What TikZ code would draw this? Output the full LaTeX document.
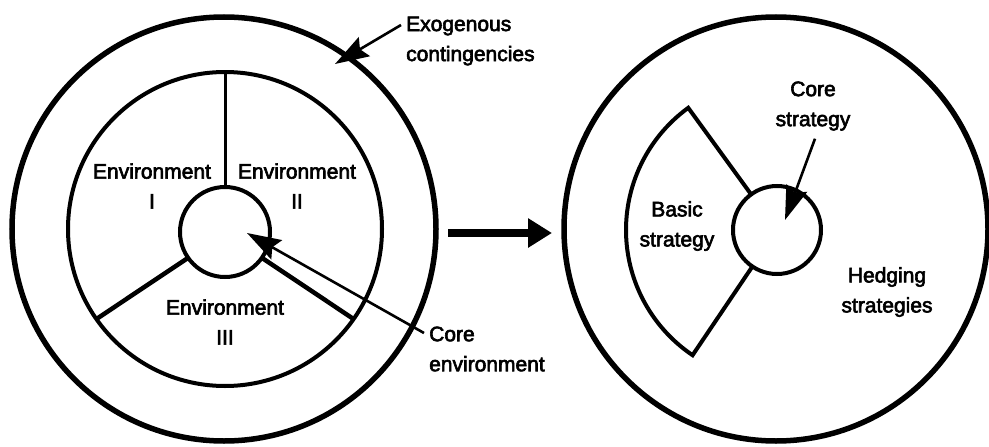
\documentclass[tikz,border=0pt]{standalone}
\usepackage{fontspec}
\setmainfont{Liberation Sans}
\usetikzlibrary{arrows.meta,calc}
% slightly heavier strokes for the label glyphs (fill + stroke render mode)
\newcommand{\heavytext}{\special{pdf:literal direct 2 Tr 0.6 w}}
\begin{document}
\begin{tikzpicture}[x=1pt,y=1pt,
  ring/.style={circle,draw,outer sep=0pt,inner sep=0pt},
  lbl/.style={font=\fontsize{21}{30}\selectfont,align=center,inner sep=0pt,
    execute at begin node=\heavytext},
  pointer/.style={line width=2.6pt,-{Stealth[length=34pt,width=22pt,inset=5pt]}},
  bigarrow/.style={line width=8pt,-{Triangle[length=24pt,width=28pt]}}]
\useasboundingbox (0,0) rectangle (989,-447);

% environment side
\node[ring,line width=5.5pt,minimum size=424pt] (outerL) at (224,-229) {};
\node[ring,line width=4pt,minimum size=314pt] (ringL) at (225,-229) {};
\node[ring,line width=4pt,minimum size=90pt] (coreL) at (225,-232) {};
\draw[line width=3pt] (coreL.90) -- (coreL.90 |- ringL.90);
\draw[line width=4.5pt] (coreL.215) -- (ringL.215);
\draw[line width=4.5pt] (coreL.325) -- (ringL.325);

\node[lbl] (envI) at (152,-186) {Environment\\I};
\node[lbl] (envII) at (297,-186) {Environment\\II};
\node[lbl] (envIII) at (225,-322) {Environment\\III};

\node[lbl,align=left,anchor=west] (exo) at (406,-41) {Exogenous\\contingencies};
\coordinate (exoTip) at (335,-64);
\draw[pointer] ([shift={(-5,16)}]exo.west) -- (exoTip);

\node[lbl,align=left,anchor=west] (coreEnv) at (429,-349) {Core\\environment};
\coordinate (coreEnvTip) at (247,-233);
\draw[pointer] ([shift={(-5,16)}]coreEnv.west) -- (coreEnvTip);

% strategy side
\node[ring,line width=5.5pt,minimum size=424pt] (outerR) at (776,-229) {};
\node[ring,line width=4pt,minimum size=88pt] (coreR) at (777,-230) {};
\draw[line width=4pt,line join=miter]
  (coreR.126) -- ($(coreR)+(126:151)$)
  arc[start angle=126,end angle=236,radius=151] -- (coreR.236);

\node[lbl] (basic) at (677,-226) {Basic\\strategy};
\node[lbl] (hedge) at (887,-292) {Hedging\\strategies};
\node[lbl] (coreStr) at (813,-106) {Core\\strategy};
\coordinate (coreStrTip) at (785,-220);
\draw[pointer] ([shift={(2,-8)}]coreStr.south) -- (coreStrTip);

% transition arrow
\draw[bigarrow] ([shift={(12,-4)}]outerL.east) -- ([shift={(-12,-4)}]outerR.west);
\end{tikzpicture}
\end{document}
